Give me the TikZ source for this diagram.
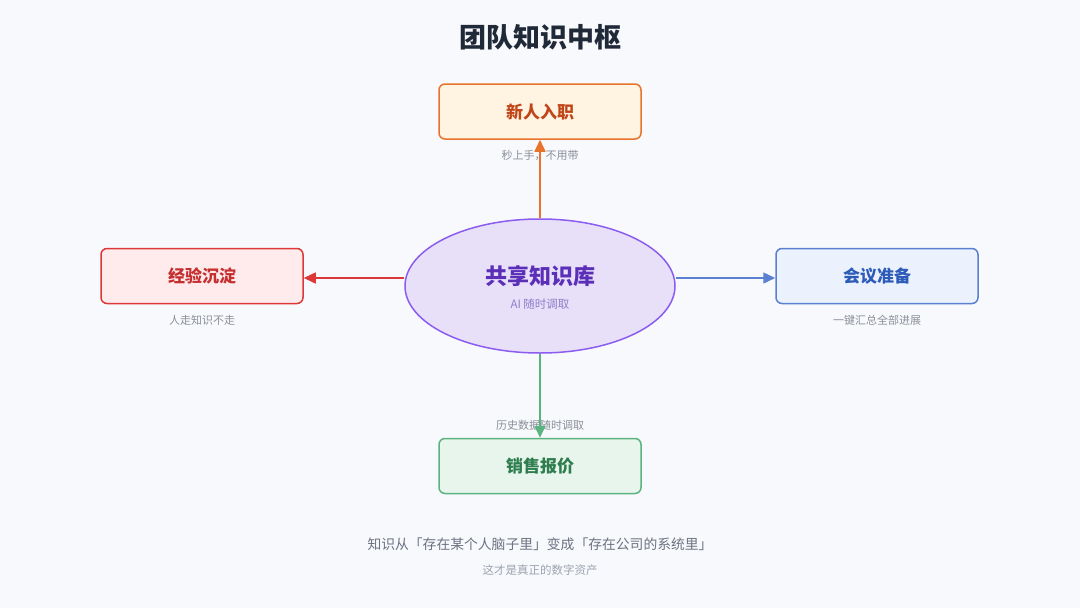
\documentclass[tikz,border=0pt]{standalone}
\usepackage{fontspec}
\setmainfont{Noto Sans CJK SC}
\usetikzlibrary{arrows.meta,shapes.geometric}
\definecolor{bg}{HTML}{F8F9FC}
\definecolor{titlec}{HTML}{1F2937}
\definecolor{subc}{HTML}{8A8F99}
\definecolor{footc}{HTML}{6B7280}
\definecolor{foot2}{HTML}{9CA3AF}
\definecolor{ofill}{HTML}{FFF3E2}\definecolor{odraw}{HTML}{E8732A}\definecolor{otext}{HTML}{C0461A}
\definecolor{rfill}{HTML}{FFEBEC}\definecolor{rdraw}{HTML}{DC3838}\definecolor{rtext}{HTML}{C62F2F}
\definecolor{bfill}{HTML}{EBF2FD}\definecolor{bdraw}{HTML}{5B80D2}\definecolor{btext}{HTML}{2D5BB8}
\definecolor{gfill}{HTML}{E8F5EC}\definecolor{gdraw}{HTML}{5BB47F}\definecolor{gtext}{HTML}{2E7D4E}
\definecolor{pfill}{HTML}{E8E0F8}\definecolor{pdraw}{HTML}{8B5CF0}\definecolor{ptext}{HTML}{5B2FB8}\definecolor{psub}{HTML}{8E7DC9}
\tikzset{
  x=1pt,y=-1pt,
  box/.style={draw, line width=1.5pt, rounded corners=6pt, minimum width=202pt, minimum height=55pt, inner sep=0pt, font=\bfseries\fontsize{17}{19}\selectfont},
  sub/.style={text=subc, font=\fontsize{11}{13}\selectfont, inner sep=1pt},
  arr/.style={line width=1.5pt, -{Triangle[length=12pt,width=11pt]}},
}
\begin{document}
\begin{tikzpicture}
\fill[bg] (0,0) rectangle (1080,608);
\useasboundingbox (0,0) rectangle (1080,608);
\node[text=titlec, font=\bfseries\fontsize{27}{30}\selectfont] (title) at (540,37) {团队知识中枢};
% sub labels (drawn under arrows)
\node[sub] (ltop) at (540,155) {秒上手，不用带};
\node[sub] (lleft) at (202,320) {人走知识不走};
\node[sub] (lright) at (877,320) {一键汇总全部进展};
\node[sub] (lbot) at (540,425) {历史数据随时调取};
% center
\node[ellipse, draw=pdraw, fill=pfill, line width=1.5pt, minimum width=270pt, minimum height=134pt, inner sep=0pt] (hub) at (540,286) {};
\node[text=ptext, font=\bfseries\fontsize{22}{24}\selectfont] (hubt) at (540,276) {共享知识库};
\node[text=psub, font=\fontsize{11.5}{13}\selectfont] (hubs) at (540,304) {AI\ 随时调取};
% boxes
\node[box, draw=odraw, fill=ofill, text=otext] (top) at (540,111.5) {新人入职};
\node[box, draw=rdraw, fill=rfill, text=rtext] (left) at (202,276) {经验沉淀};
\node[box, draw=bdraw, fill=bfill, text=btext] (right) at (877,276) {会议准备};
\node[box, draw=gdraw, fill=gfill, text=gtext] (bot) at (540,466) {销售报价};
% arrows
\draw[arr, odraw] (hub.north) -- (top.south);
\draw[arr, gdraw] (hub.south) -- (bot.north);
\draw[arr, rdraw] (hub.west |- 0,278) -- (left.east |- 0,278);
\draw[arr, bdraw] (hub.east |- 0,278) -- (right.west |- 0,278);
% footer
\node[text=footc, font=\fontsize{13.8}{16}\selectfont] (f1) at (540,544) {知识从「存在某个人脑子里」变成「存在公司的系统里」};
\node[text=foot2, font=\fontsize{11.5}{13}\selectfont] (f2) at (540,570) {这才是真正的数字资产};
\end{tikzpicture}
\end{document}
